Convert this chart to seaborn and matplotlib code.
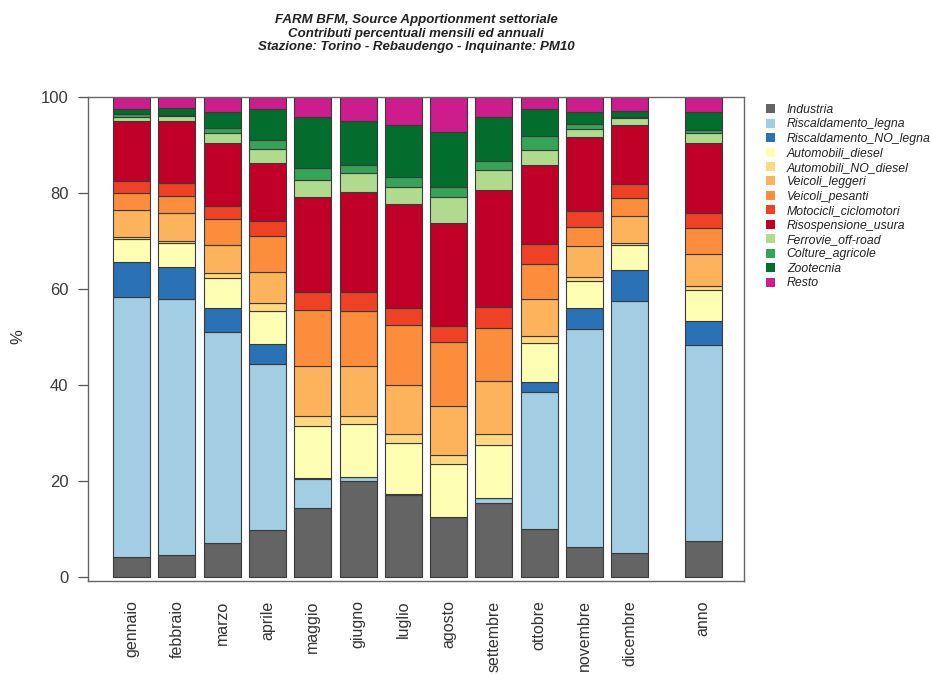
import numpy as np
import pandas as pd
import matplotlib
matplotlib.use("Agg")
import matplotlib.pyplot as plt
from matplotlib.patches import Patch
import seaborn as sns

# Period labels (twelve months plus the annual bar)
periods = ["gennaio", "febbraio", "marzo", "aprile", "maggio", "giugno",
           "luglio", "agosto", "settembre", "ottobre", "novembre", "dicembre",
           "anno"]

# Sector contributions (%) per period, from bottom to top of each stack
industria              = [4.2, 4.6, 7.0, 9.8, 14.4, 19.9, 17.1, 12.4, 15.5, 10.0, 6.3, 4.9, 7.4]
riscaldamento_legna    = [54.2, 53.4, 44.1, 34.6, 6.1, 0.9, 0.1, 0.0, 0.9, 28.5, 45.3, 52.5, 40.9]
riscaldamento_no_legna = [7.3, 6.6, 4.9, 4.1, 0.2, 0.1, 0.0, 0.0, 0.1, 2.1, 4.4, 6.6, 5.0]
automobili_diesel      = [4.7, 4.9, 6.2, 7.0, 10.8, 10.9, 10.8, 11.1, 11.1, 8.1, 5.7, 5.2, 6.4]
automobili_no_diesel   = [0.5, 0.5, 1.1, 1.5, 2.1, 1.8, 1.7, 1.9, 2.2, 1.5, 0.7, 0.3, 0.9]
veicoli_leggeri        = [5.6, 5.8, 5.9, 6.5, 10.4, 10.4, 10.4, 10.2, 11.0, 7.8, 6.6, 5.7, 6.6]
veicoli_pesanti        = [3.4, 3.6, 5.3, 7.6, 11.6, 11.5, 12.3, 13.3, 11.0, 7.3, 4.0, 3.7, 5.6]
motocicli_ciclomotori  = [2.5, 2.7, 2.8, 3.1, 3.7, 3.8, 3.6, 3.4, 4.4, 4.0, 3.3, 2.9, 3.1]
risospensione_usura    = [12.5, 13.0, 13.2, 12.1, 19.8, 21.0, 21.8, 21.5, 24.5, 16.5, 15.3, 12.4, 14.6]
ferrovie_off_road      = [1.0, 0.9, 2.1, 2.8, 3.7, 3.8, 3.5, 5.3, 4.0, 3.2, 1.7, 1.4, 1.9]
colture_agricole       = [0.5, 0.3, 0.9, 1.9, 2.5, 1.7, 2.0, 2.1, 1.9, 2.9, 1.0, 0.3, 0.7]
zootecnia              = [1.1, 1.4, 3.4, 6.6, 10.5, 9.3, 10.9, 11.6, 9.3, 5.7, 2.6, 1.2, 3.8]
resto                  = [2.5, 2.3, 3.1, 2.4, 4.2, 4.9, 5.8, 7.2, 4.0, 2.4, 3.1, 2.9, 3.1]

sectors = ["Industria", "Riscaldamento_legna", "Riscaldamento_NO_legna",
           "Automobili_diesel", "Automobili_NO_diesel", "Veicoli_leggeri",
           "Veicoli_pesanti", "Motocicli_ciclomotori", "Risospensione_usura",
           "Ferrovie_off-road", "Colture_agricole", "Zootecnia", "Resto"]
series = [industria, riscaldamento_legna, riscaldamento_no_legna,
          automobili_diesel, automobili_no_diesel, veicoli_leggeri,
          veicoli_pesanti, motocicli_ciclomotori, risospensione_usura,
          ferrovie_off_road, colture_agricole, zootecnia, resto]
colors = ["#646464", "#a3cde2", "#2a72b5", "#ffffb3", "#fdd982", "#fdb35c",
          "#fb8d3d", "#ef4126", "#c00026", "#b0db8f", "#35a456", "#026d2d",
          "#cd1c8c"]

# Bar positions: months spaced evenly, the annual bar set apart
pos = np.array(list(range(12)) + [12.62])

df = pd.DataFrame({"pos": np.tile(pos, len(sectors)),
                   "settore": np.repeat(sectors, len(periods)),
                   "valore": np.concatenate(series)})

plt.rcParams["font.family"] = ["Liberation Sans", "DejaVu Sans"]

fig = plt.figure(figsize=(9.32, 6.75), dpi=100)
ax = fig.add_axes([88 / 932, 1 - 581 / 675, (744 - 88) / 932, (581 - 97) / 675])

bottom = np.zeros(len(periods))
for name, col in zip(sectors, colors):
    sub = df[df["settore"] == name]
    vals = sub["valore"].to_numpy()
    sns.barplot(data=sub, x="pos", y="valore", native_scale=True,
                bottom=bottom, color=col, width=0.817, errorbar=None,
                edgecolor="#3a3a3a", linewidth=0.8, saturation=1, ax=ax)
    bottom = bottom + vals

ax.set_xlim(-0.96, 13.52)
ax.set_ylim(-0.83, 100)
ax.set_xticks(pos)
ax.set_xticklabels(periods, rotation=90, fontsize=11.5, color="#333333")
ax.tick_params(axis="x", length=0, pad=14)
ax.set_yticks([0, 20, 40, 60, 80, 100])
ax.set_yticklabels(["0", "20", "40", "60", "80", "100"], fontsize=12, color="#3a3a3a")
ax.tick_params(axis="y", length=7, width=0.9, color="#555555", pad=7)
ax.set_xlabel("")
ax.set_ylabel("")
for s in ax.spines.values():
    s.set_color("#666666")
    s.set_linewidth(1.0)
ax.set_facecolor("white")

fig.text(18 / 932, 1 - 337 / 675, "%", rotation=90, fontsize=12,
         color="#333333", ha="center", va="center")

title_lines = ["FARM BFM, Source Apportionment settoriale",
               "Contributi percentuali mensili ed annuali",
               "Stazione: Torino - Rebaudengo - Inquinante: PM10"]
for i, line in enumerate(title_lines):
    fig.text(416 / 932, 1 - (20.5 + 13.3 * i) / 675, line, fontsize=9.5,
             fontweight="bold", fontstyle="italic", color="#222222",
             ha="center", va="center")

handles = [Patch(facecolor=c, edgecolor="none") for c in colors]
leg = fig.legend(handles, sectors, loc="upper left",
                 bbox_to_anchor=(766 / 932, 1 - 104 / 675), frameon=False,
                 prop={"style": "italic", "size": 8.8},
                 handlelength=0.75, handleheight=0.75, handletextpad=0.95,
                 labelspacing=0.2, borderaxespad=0, borderpad=0)
for t in leg.get_texts():
    t.set_color("#222222")

fig.savefig("out.png", dpi=100, facecolor="white")
